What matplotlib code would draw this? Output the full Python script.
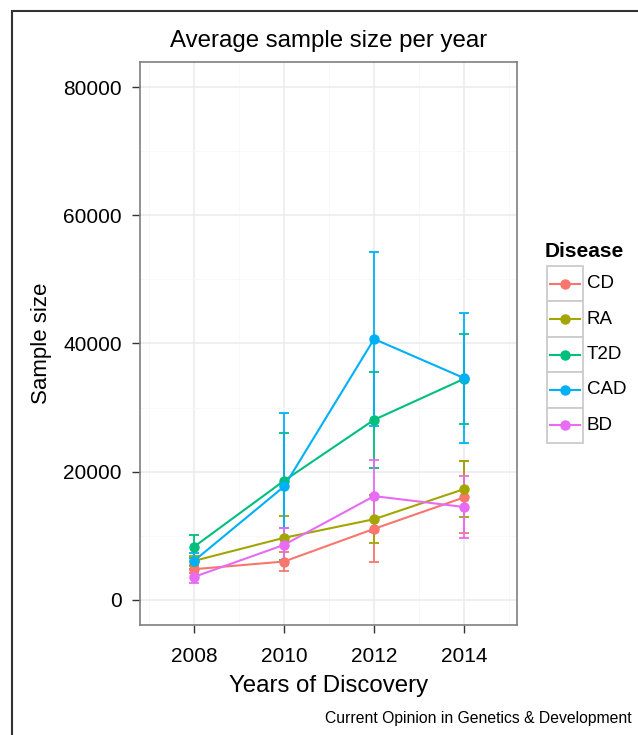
import matplotlib
matplotlib.use("Agg")
import matplotlib.pyplot as plt
from matplotlib.patches import Rectangle

plt.rcParams['font.family'] = ['Liberation Sans', 'DejaVu Sans']

years = [2008, 2010, 2012, 2014]
diseases = ["CD", "RA", "T2D", "CAD", "BD"]
colors = ["#F8766D", "#A3A500", "#00BF7D", "#00B0F6", "#E76BF3"]

cd_mean = [4800, 6000, 11100, 16000]
cd_err = [600, 1500, 5200, 5600]
ra_mean = [6100, 9700, 12600, 17300]
ra_err = [800, 3400, 3700, 4400]
t2d_mean = [8300, 18600, 28100, 34500]
t2d_err = [1800, 7400, 7500, 7000]
cad_mean = [6100, 17700, 40700, 34600]
cad_err = [1300, 11500, 13600, 10100]
bd_mean = [3600, 8600, 16200, 14500]
bd_err = [1000, 2600, 5600, 4900]

means = [cd_mean, ra_mean, t2d_mean, cad_mean, bd_mean]
errs = [cd_err, ra_err, t2d_err, cad_err, bd_err]

yticks = [0, 20000, 40000, 60000, 80000]
xticks = [2008, 2010, 2012, 2014]

W, H = 638, 735
fig = plt.figure(figsize=(W / 100, H / 100), dpi=100)

def fx(px):
    return px / W

def fy(py):
    return 1 - py / H

L, R, T, B = 140, 517.3, 62, 625
ax = fig.add_axes([fx(L), fy(B), fx(R) - fx(L), fy(T) - fy(B)])
ax.set_xlim(2006.8, 2015.18)
ax.set_ylim(-3900, 83900)

ax.set_xticks(xticks)
ax.set_yticks(yticks)
ax.set_xticks([2007, 2009, 2011, 2013, 2015], minor=True)
ax.set_yticks([10000, 30000, 50000, 70000], minor=True)
ax.grid(which='major', color='#EBEBEB', linewidth=1.1, zorder=0)
ax.grid(which='minor', color='#F7F7F7', linewidth=0.6, zorder=0)
ax.set_axisbelow(True)
ax.tick_params(which='minor', length=0)
ax.tick_params(which='major', length=5.6, width=1.0, color='#333333',
               labelsize=15, labelcolor='black', pad=7.5)
ax.tick_params(axis='x', which='major', pad=10)
for s in ax.spines.values():
    s.set_color('#7F7F7F')
    s.set_linewidth(1.2)

for m, e, c in zip(means, errs, colors):
    ax.errorbar(years, m, yerr=e, fmt='none', ecolor=c, elinewidth=1.3,
                capsize=3.3, capthick=1.3, zorder=2)
for m, c in zip(means, colors):
    ax.plot(years, m, color=c, linewidth=1.5, zorder=3)
for m, c in zip(means, colors):
    ax.plot(years, m, 'o', color=c, markersize=6.5, zorder=4)

ax.set_title("Average sample size per year", fontsize=17.3, pad=11)
ax.set_xlabel("Years of Discovery", fontsize=17.3, labelpad=7)
ax.set_ylabel("Sample size", fontsize=16, labelpad=8)

# legend drawn in pixel coords
lg = fig.add_axes([0, 0, 1, 1], facecolor='none')
lg.set_xlim(0, W)
lg.set_ylim(H, 0)
lg.axis('off')
lg.text(545, 251, "Disease", fontsize=15, fontweight='bold', va='center', ha='left')
key_top, key_h, kx0, kx1 = 266, 35.4, 546.7, 583.3
for i, (d, c) in enumerate(zip(diseases, colors)):
    y0 = key_top + i * key_h
    lg.add_patch(Rectangle((kx0, y0), kx1 - kx0, key_h, facecolor='white',
                           edgecolor='#CCCCCC', linewidth=1.3))
    yc = y0 + key_h / 2
    lg.plot([kx0 + 3, kx1 - 3], [yc, yc], color=c, linewidth=1.5)
    lg.plot([(kx0 + kx1) / 2], [yc], 'o', color=c, markersize=6.5)
    lg.text(587, yc, d, fontsize=13.5, va='center', ha='left')

# outer frame (left and top)
lg.plot([12, 12, W + 5], [H + 5, 11, 11], color='#333333', linewidth=1.5,
        solid_joinstyle='miter', clip_on=False)

lg.text(632, 719, "Current Opinion in Genetics & Development", fontsize=11.3,
        ha='right', va='center')

fig.savefig("out.png", dpi=100)
